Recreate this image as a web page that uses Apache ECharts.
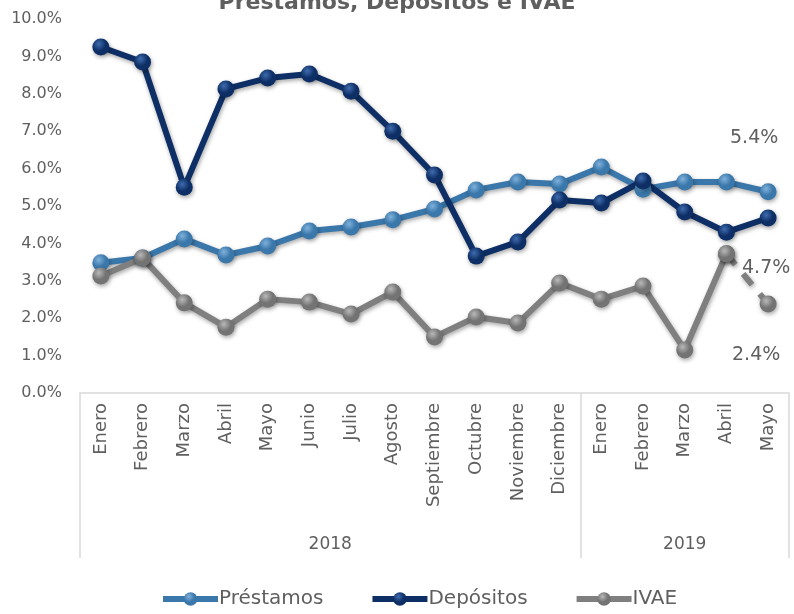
<!DOCTYPE html>
<html>
<head>
<meta charset="utf-8">
<script src="https://cdn.jsdelivr.net/npm/echarts@6/dist/echarts.min.js"></script>
<style>html,body{margin:0;padding:0;background:#fff}#c{width:794px;height:614px}</style>
</head>
<body>
<div id="c"></div>
<script>
const months = ['Enero','Febrero','Marzo','Abril','Mayo','Junio','Julio','Agosto','Septiembre','Octubre','Noviembre','Diciembre','Enero','Febrero','Marzo','Abril','Mayo'];
const years = ['2018','2019'];
const yearSpans = [12, 5];
const prestamos = [3.48,3.61,4.12,3.69,3.93,4.33,4.44,4.63,4.92,5.43,5.64,5.59,6.04,5.45,5.64,5.64,5.38];
const depositos = [9.25,8.85,5.5,8.13,8.42,8.53,8.07,7.0,5.83,3.66,4.04,5.16,5.08,5.67,4.84,4.3,4.68];
const ivae = [3.13,3.61,2.41,1.76,2.51,2.43,2.11,2.7,1.5,2.03,1.87,2.94,2.51,2.86,1.15,3.72,2.38];

const FONT = 'DejaVu Sans';
const TXT = '#5f5f5f';

function grad(light, dark){
  return {type:'radial', x:0.38, y:0.32, r:0.75,
    colorStops:[{offset:0,color:light},{offset:0.55,color:dark},{offset:1,color:dark}]};
}
const lineShadow = {shadowColor:'rgba(0,0,0,0.35)', shadowBlur:4, shadowOffsetX:1, shadowOffsetY:2};

function withLastLabel(arr, lbl){
  return arr.map((v,i)=> i===arr.length-1 ? {value:v, label:Object.assign({show:true,
    formatter: p => p.value.toFixed(1)+'%', fontFamily:FONT, fontSize:19, color:TXT}, lbl)} : v);
}

const bounds = [0]; yearSpans.forEach(s => bounds.push(bounds[bounds.length-1]+s));
const centers = yearSpans.map((s,i)=> bounds[i] + s/2);

const ivaeMain = ivae.map((v,i)=> i < ivae.length-1 ? v : null);
const ivaeLast = ivae.map((v,i)=> i >= ivae.length-2 ? v : null);

const chart = echarts.init(document.getElementById('c'));
chart.setOption({
  animation:false,
  title:{text:'Préstamos, Depósitos e IVAE', left:'center', top:-13,
    textStyle:{fontFamily:FONT, fontSize:22, fontWeight:'bold', color:TXT}},
  grid:{left:80, right:5, top:19, bottom:221, containLabel:false},
  legend:{bottom:0, left:155, itemWidth:55, itemHeight:17, itemGap:46,
    data:['Préstamos','Depósitos','IVAE'],
    lineStyle:{width:6},
    textStyle:{fontFamily:FONT, fontSize:20, color:TXT, padding:[0,0,0,-4]}},
  xAxis:[{
    type:'category', data:months, boundaryGap:true,
    axisLine:{show:true, lineStyle:{color:'#d9d9d9', width:1.5}},
    axisTick:{show:false},
    axisLabel:{rotate:90, margin:10, interval:0, fontFamily:FONT, fontSize:18, color:TXT}
  },{
    type:'value', min:0, max:bounds[bounds.length-1], position:'bottom',
    axisLine:{show:false},
    splitLine:{show:false},
    axisTick:{show:true, customValues:bounds, length:165, lineStyle:{color:'#d9d9d9', width:1.5}},
    axisLabel:{customValues:centers, margin:143, fontFamily:FONT, fontSize:17, color:TXT,
      formatter: v => { const i = centers.indexOf(v); return i>=0 ? years[i] : ''; }}
  }],
  yAxis:{type:'value', min:0, max:10, interval:1,
    axisLine:{show:false}, axisTick:{show:false}, splitLine:{show:false},
    axisLabel:{fontFamily:FONT, fontSize:16, color:TXT, margin:18,
      formatter: v => v.toFixed(1)+'%'}},
  series:[
    {name:'Préstamos', type:'line', data:withLastLabel(prestamos,{position:'top', distance:36, offset:[-14,0]}),
      symbol:'circle', symbolSize:17,
      lineStyle:Object.assign({color:'#3a77aa', width:6}, lineShadow),
      itemStyle:Object.assign({color:grad('#7fb1db','#3a77aa')}, lineShadow)},
    {name:'Depósitos', type:'line', data:withLastLabel(depositos,{position:'bottom', distance:32, offset:[-2,0]}),
      symbol:'circle', symbolSize:17,
      lineStyle:Object.assign({color:'#0e2f66', width:6}, lineShadow),
      itemStyle:Object.assign({color:grad('#3f6cae','#0e2f66')}, lineShadow)},
    {name:'IVAE', type:'line', data:ivaeMain,
      symbol:'circle', symbolSize:17,
      lineStyle:Object.assign({color:'#7f7f7f', width:6}, lineShadow),
      itemStyle:Object.assign({color:grad('#b8b8b8','#737373')}, lineShadow)},
    {name:'IVAE', type:'line', data:withLastLabel(ivaeLast,{position:'bottom', distance:33, offset:[-12,0]}),
      symbol:'circle', symbolSize:17,
      lineStyle:Object.assign({color:'#7f7f7f', width:6, type:[14,12]}, lineShadow),
      itemStyle:Object.assign({color:grad('#b8b8b8','#737373')}, lineShadow)}
  ]
});
</script>
</body>
</html>
